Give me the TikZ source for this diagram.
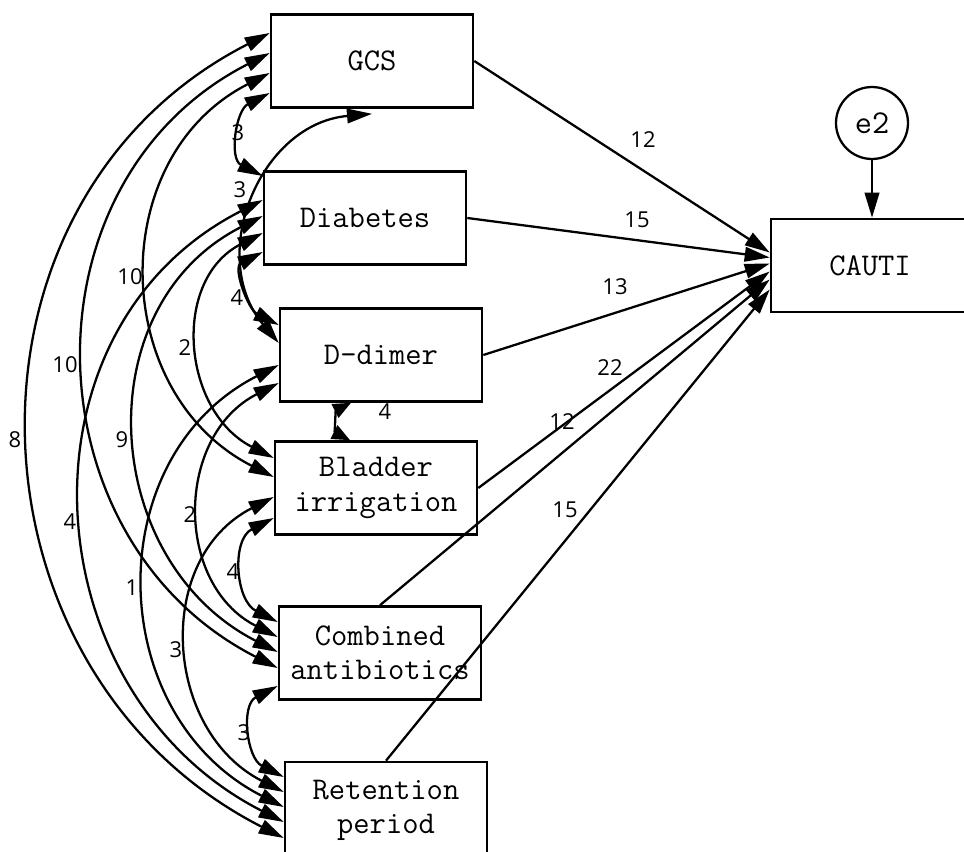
\documentclass[tikz,border=0pt]{standalone}
\usepackage{fontspec}
\setmainfont{Open Sans}
\usetikzlibrary{calc}
\usetikzlibrary{arrows.meta}
\usetikzlibrary{backgrounds}

\tikzset{
	var/.style = {draw, line width = 1.5pt, fill = white, minimum width = 4.04cm, minimum height = 1.86cm, align = center, inner sep = 0pt, font = \ttfamily\fontsize{18}{19.5}\selectfont},
	cov/.style = {{Triangle[length = 5mm, width = 2.9mm]}-{Triangle[length = 5mm, width = 2.9mm]}, line width = 1.3pt},
	reg/.style = {-{Triangle[length = 5mm, width = 2.9mm]}, line width = 1.3pt},
	bow/.style = {out = 207, in = 153, looseness = 1.17},
	coef/.style = {font = \fontsize{12.5}{14}\selectfont, inner sep = 1pt},
}

\begin{document}
\begin{tikzpicture}[x = 0.02cm, y = 0.02cm]

	\useasboundingbox (0,0) rectangle (964,-852);

	% observed variables
	\node [var] (gcs) at (372,-61) {GCS};
	\node [var] (diab) at (365,-218) {Diabetes};
	\node [var] (ddim) at (381,-355) {D-dimer};
	\node [var] (blad) at (376,-488) {Bladder\\irrigation};
	\node [var] (comb) at (380,-653) {Combined\\antibiotics};
	\node [var, minimum height = 1.92cm] (ret) at (386,-810) {Retention\\period};

	% outcome and error
	\node [var, minimum width = 3.96cm] (cauti) at (870,-265.5) {CAUTI};
	\node [draw, circle, line width = 1.3pt, minimum size = 1.44cm, inner sep = 0pt, font = \ttfamily\fontsize{19}{17}\selectfont] (e2) at (872,-123) {e2};
	\draw [reg] (e2.south) -- (e2.south |- cauti.north);

	% paths to CAUTI
	\draw [reg] (gcs.east) -- ($(cauti.west)+(0,13)$);
	\draw [reg] (diab.east) -- ($(cauti.west)+(0,8)$);
	\draw [reg] (ddim.east) -- ($(cauti.west)+(0,2)$);
	\draw [reg] (blad.east) -- ($(cauti.west)+(0,-6)$);
	\draw [reg] (comb.north) -- ($(cauti.west)+(0,-14)$);
	\draw [reg] (ret.north) -- ($(cauti.west)+(0,-24)$);

	\node [coef] (bGcs) at (643,-140) {12};
	\node [coef] (bDiab) at (637,-220) {15};
	\node [coef] (bDdim) at (615,-287) {13};
	\node [coef] (bBlad) at (610,-368) {22};
	\node [coef] (bComb) at (562,-422) {12};
	\node [coef] (bRet) at (565,-510) {15};

	% covariances, behind the boxes
	\begin{scope}[on background layer]
		%% GCS
		\draw [cov] ($(gcs.west)+(0,28)$) to [bow] ($(ret.west)+(0,-28)$);
		\draw [cov] ($(gcs.west)+(0,8)$) to [bow] ($(comb.west)+(0,-15)$);
		\draw [cov] ($(gcs.west)+(0,-12)$) to [bow] ($(blad.west)+(0,11)$);
		\draw [cov] ($(gcs.west)+(0,-32)$) to [bow] ($(diab.west)+(0,42)$);
		\draw [cov] ($(gcs.south)+(0,-5)$) to [out = 185, in = 130, looseness = 1.17] ($(ddim.west)+(0,12)$);
		%% Diabetes
		\draw [cov] ($(diab.west)+(0,18)$) to [bow] ($(ret.west)+(0,-12)$);
		\draw [cov] ($(diab.west)+(0,2)$) to [bow] ($(comb.west)+(0,1)$);
		\draw [cov] ($(diab.west)+(0,-15)$) to [bow] ($(blad.west)+(0,30)$);
		\draw [cov] ($(diab.west)+(0,-34)$) to [bow] ($(ddim.west)+(0,30)$);
		%% D-dimer
		\draw [cov] ($(ddim.west)+(0,-10)$) to [bow] ($(ret.west)+(0,3)$);
		\draw [cov] ($(ddim.west)+(0,-28)$) to [bow] ($(comb.west)+(0,16)$);
		\draw [{Triangle[length = 3.6mm, width = 3mm]}-{Triangle[length = 3.6mm, width = 3mm]}, line width = 1.3pt] ($(ddim.south)+(-30,0)$) to [bow] ($(blad.north)+(-26,0)$);
		%% Bladder irrigation
		\draw [cov] ($(blad.west)+(0,-9)$) to [bow] ($(ret.west)+(0,18)$);
		\draw [cov] ($(blad.west)+(0,-30)$) to [bow] ($(comb.west)+(0,31)$);
		%% Combined antibiotics
		\draw [cov] ($(comb.west)+(0,-33)$) to [bow] ($(ret.west)+(0,33)$);
	\end{scope}

	\node [coef] (cGcsDiab) at (238,-133) {3};
	\node [coef] (cGcsDdim) at (240,-190) {3};
	\node [coef] (cGcsBlad) at (130,-277) {10};
	\node [coef] (cGcsComb) at (65,-365) {10};
	\node [coef] (cGcsRet) at (15,-440) {8};
	\node [coef] (cDiabDdim) at (237,-298) {4};
	\node [coef] (cDiabBlad) at (185,-348) {2};
	\node [coef] (cDiabComb) at (122,-440) {9};
	\node [coef] (cDiabRet) at (70,-522) {4};
	\node [coef] (cDdimBlad) at (385,-412) {4};
	\node [coef] (cDdimComb) at (190,-515) {2};
	\node [coef] (cDdimRet) at (132,-588) {1};
	\node [coef] (cBladComb) at (233,-572) {4};
	\node [coef] (cBladRet) at (176,-650) {3};
	\node [coef] (cCombRet) at (244,-733) {3};

\end{tikzpicture}
\end{document}
